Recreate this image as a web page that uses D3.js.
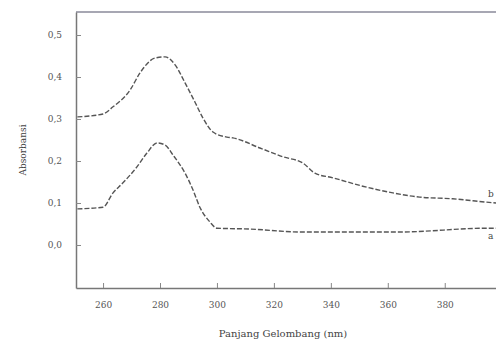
<!DOCTYPE html>
<html>
<head>
<meta charset="utf-8">
<script src="https://cdn.jsdelivr.net/npm/d3@7"></script>
<style>
  body { margin: 0; background: #fff; }
  svg { display: block; }
  .tick text { font-family: "DejaVu Serif", "Liberation Serif", serif; font-size: 9px; fill: #555; }
  .label { font-family: "DejaVu Serif", "Liberation Serif", serif; fill: #444; }
</style>
</head>
<body>
<div id="viewport"></div>
<script>
// wavelength (nm) readings
const waveB = [251, 260, 263.5, 269.5, 273, 278.2, 281.8, 285.3, 288.8, 292.3, 295.1, 298.6, 303.5, 305.6, 315.1, 323.2, 330.2, 334.4, 340.7, 351.2, 361.8, 371.2, 382.8, 394.7, 398];
const absB  = [0.305, 0.312, 0.329, 0.369, 0.410, 0.445, 0.448, 0.429, 0.386, 0.340, 0.302, 0.269, 0.257, 0.255, 0.231, 0.210, 0.195, 0.171, 0.160, 0.140, 0.124, 0.114, 0.110, 0.102, 0.100];

const waveA = [251, 260, 263.5, 267, 271.9, 275.4, 279, 281.8, 284.6, 288.8, 291.6, 294, 297.5, 300, 311.6, 329.1, 364.2, 394.7, 398];
const absA  = [0.086, 0.090, 0.124, 0.148, 0.186, 0.219, 0.243, 0.238, 0.214, 0.171, 0.131, 0.090, 0.055, 0.040, 0.038, 0.031, 0.031, 0.040, 0.040];

const xTicks = [260, 280, 300, 320, 340, 360, 380];
const yTicks = [0.0, 0.1, 0.2, 0.3, 0.4, 0.5];

const width = 496, height = 342;
const margin = { left: 76, top: 12, bottom: 288 };

const svg = d3.select("#viewport").append("svg")
    .attr("width", width)
    .attr("height", height);

const x = d3.scaleLinear().domain([250.5, 398]).range([margin.left, width]);
const y = d3.scaleLinear().domain([-0.1024, 0.5548]).range([margin.bottom, margin.top]);

// frame
svg.append("line")
    .attr("x1", margin.left).attr("x2", width)
    .attr("y1", margin.top).attr("y2", margin.top)
    .attr("stroke", "#8a8a9a").attr("stroke-width", 1.5);

const xAxis = svg.append("g")
    .attr("transform", `translate(0,${margin.bottom})`)
    .call(d3.axisBottom(x).tickValues(xTicks).tickSizeInner(-5).tickSizeOuter(0).tickPadding(14));

const yAxis = svg.append("g")
    .attr("transform", `translate(${margin.left},0)`)
    .call(d3.axisLeft(y).tickValues(yTicks).tickSizeInner(-5).tickSizeOuter(0).tickPadding(14)
        .tickFormat(d => d3.format(".1f")(d).replace(".", ",")));

[xAxis, yAxis].forEach(a => {
    a.select(".domain").attr("stroke", "#777").attr("stroke-width", 1.5);
    a.selectAll(".tick line").attr("stroke", "#888");
});

// curves
const line = d3.line()
    .x(d => x(d[0]))
    .y(d => y(d[1]))
    .curve(d3.curveMonotoneX);

const series = [
    { name: "b", pts: d3.zip(waveB, absB) },
    { name: "a", pts: d3.zip(waveA, absA) }
];

svg.selectAll(".curve")
    .data(series)
    .join("path")
    .attr("class", "curve")
    .attr("d", d => line(d.pts))
    .attr("fill", "none")
    .attr("stroke", "#555")
    .attr("stroke-width", 1.4)
    .attr("stroke-dasharray", "5,2");

svg.selectAll(".tag")
    .data(series)
    .join("text")
    .attr("class", "label tag")
    .attr("x", width - 8)
    .attr("y", d => y(d.pts[d.pts.length - 1][1]) + (d.name === "b" ? -6 : 11))
    .attr("font-size", 9)
    .text(d => d.name);

// axis titles
svg.append("text")
    .attr("class", "label")
    .attr("x", 283).attr("y", 337)
    .attr("text-anchor", "middle")
    .attr("font-size", 10)
    .text("Panjang Gelombang (nm)");

svg.append("text")
    .attr("class", "label")
    .attr("transform", "translate(26,150) rotate(-90)")
    .attr("text-anchor", "middle")
    .attr("font-size", 9)
    .text("Absorbansi");
</script>
</body>
</html>
